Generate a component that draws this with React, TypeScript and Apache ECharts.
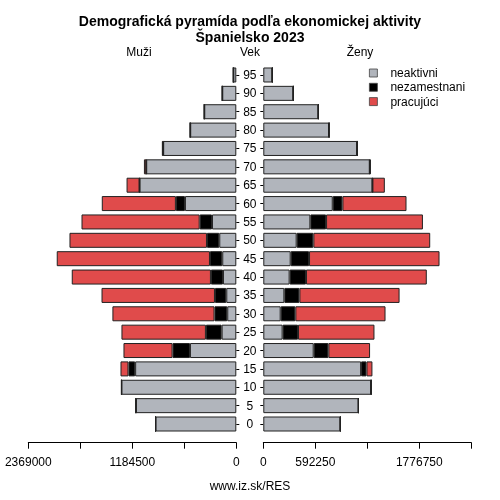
import React, { useEffect, useRef } from "react";
import * as echarts from "echarts";

const ages = ["0", "5", "10", "15", "20", "25", "30", "35", "40", "45", "50", "55", "60", "65", "70", "75", "80", "85", "90", "95"];

// Muži (men)
const menInactive = [920000, 1144000, 1308000, 1152000, 528000, 167000, 103000, 114000, 152000, 160000, 194000, 277000, 585000, 1102000, 1026000, 833000, 525000, 365000, 160000, 34000];
const menUnemployed = [0, 0, 0, 76000, 198000, 179000, 145000, 129000, 137000, 140000, 140000, 140000, 103000, 0, 0, 0, 0, 0, 0, 0];
const menEmployed = [0, 0, 0, 91000, 559000, 962000, 1163000, 1292000, 1585000, 1745000, 1566000, 1346000, 844000, 148000, 26000, 15000, 0, 0, 0, 0];

// Ženy (women)
const womenInactive = [878000, 1084000, 1228000, 1114000, 574000, 220000, 198000, 240000, 300000, 312000, 380000, 536000, 791000, 1243000, 1213000, 1069000, 749000, 627000, 342000, 103000];
const womenUnemployed = [0, 0, 0, 61000, 167000, 175000, 167000, 171000, 186000, 209000, 190000, 179000, 110000, 0, 0, 0, 0, 0, 0, 0];
const womenEmployed = [0, 0, 0, 68000, 475000, 871000, 1027000, 1141000, 1376000, 1486000, 1331000, 1103000, 730000, 141000, 11000, 0, 0, 0, 0, 0];

const xMax = 2369000;
const xStep = 592250;
const leftLabels = ["2369000", "1184500", "0"];
const rightLabels = ["0", "592250", "1776750"];

const seriesNames = ["neaktivni", "nezamestnani", "pracujúci"];
const colors = ["#b1b5bc", "#000000", "#e04b4b"];

const FONT = "Liberation Sans, Arial, Helvetica, sans-serif";

export default function App() {
  const ref = useRef<HTMLDivElement>(null);
  useEffect(() => {
    if (!ref.current) return;
    const chart = echarts.init(ref.current, undefined, { renderer: "svg" });
    const gridTop = 65.8;
    const gridH = 367.4;
    const mkX = (idx: number, inverse: boolean, labels: string[]) => ({
      type: "value",
      gridIndex: idx,
      min: 0,
      max: xMax,
      interval: xStep,
      inverse,
      offset: 9.5,
      axisLine: { show: true, lineStyle: { color: "#000", width: 1 } },
      axisTick: { show: true, length: 6, lineStyle: { color: "#000" } },
      splitLine: { show: false },
      axisLabel: {
        show: true,
        margin: 13,
        fontSize: 12,
        color: "#000",
        fontFamily: FONT,
        showMinLabel: true,
        showMaxLabel: true,
        hideOverlap: false,
        formatter: (v: number) => (labels.includes(String(Math.round(v))) ? String(Math.round(v)) : ""),
      },
    });
    const mkY = (idx: number, showLabels: boolean) => ({
      type: "category",
      gridIndex: idx,
      data: ages,
      position: idx === 0 ? "right" : "left",
      axisLine: { show: false },
      axisTick: { show: true, length: 3, alignWithLabel: true, lineStyle: { color: "#000" } },
      axisLabel: {
        show: showLabels,
        align: "center",
        margin: 13.5,
        fontSize: 12,
        color: "#000",
        fontFamily: FONT,
        interval: 0,
      },
    });
    const leftData = [menInactive, menUnemployed, menEmployed];
    const rightData = [womenInactive, womenUnemployed, womenEmployed];
    const series: any[] = [];
    [leftData, rightData].forEach((set, gi) => {
      set.forEach((d, si) => {
        series.push({
          type: "bar",
          name: seriesNames[si],
          xAxisIndex: gi,
          yAxisIndex: gi,
          stack: "s" + gi,
          data: d,
          barWidth: 15,
          itemStyle: { color: colors[si], borderColor: "#222", borderWidth: 1 },
          emphasis: { disabled: true },
        });
      });
    });
    chart.setOption({
      animation: false,
      textStyle: { fontFamily: FONT },
      title: {
        text: "Demografická pyramída podľa ekonomickej aktivity\nŠpanielsko 2023",
        left: "center",
        top: 12.5,
        padding: 0,
        textStyle: { fontSize: 14, fontWeight: "bold", lineHeight: 16, color: "#000", fontFamily: FONT },
      },
      legend: {
        orient: "vertical",
        left: 369,
        top: 67,
        itemWidth: 8,
        itemHeight: 8,
        itemGap: 2.3,
        padding: 0,
        icon: "rect",
        data: seriesNames,
        itemStyle: { borderColor: "#444", borderWidth: 0.8 },
        textStyle: { fontSize: 12, color: "#000", fontFamily: FONT, padding: [0, 0, 0, 8] },
      },
      grid: [
        { left: 28.3, width: 208, top: gridTop, height: gridH },
        { left: 263.3, width: 208, top: gridTop, height: gridH },
      ],
      xAxis: [mkX(0, true, leftLabels), mkX(1, false, rightLabels)],
      yAxis: [mkY(0, true), mkY(1, false)],
      series,
      graphic: [
        { type: "text", x: 139, y: 51.5, style: { text: "Muži", fontSize: 12, fill: "#000", align: "center", verticalAlign: "middle", fontFamily: FONT } },
        { type: "text", x: 250, y: 51.5, style: { text: "Vek", fontSize: 12, fill: "#000", align: "center", verticalAlign: "middle", fontFamily: FONT } },
        { type: "text", x: 360, y: 51.5, style: { text: "Ženy", fontSize: 12, fill: "#000", align: "center", verticalAlign: "middle", fontFamily: FONT } },
        { type: "text", x: 250, y: 486, style: { text: "www.iz.sk/RES", fontSize: 12, fill: "#000", align: "center", verticalAlign: "middle", fontFamily: FONT } },
      ],
    });
    return () => chart.dispose();
  }, []);
  return <div ref={ref} style={{ position: "fixed", left: 0, top: 0, width: 500, height: 500 }} />;
}
